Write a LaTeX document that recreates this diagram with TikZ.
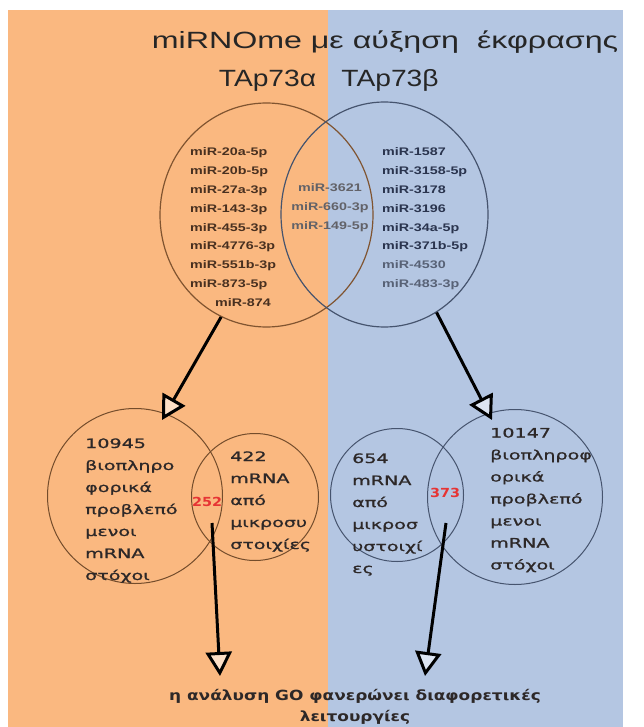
\documentclass[tikz,border=0pt]{standalone}
\usepackage{fontspec}
\usepackage{graphicx}
\setmainfont{Liberation Sans}
\newfontfamily\roundgr[FakeBold=0.8]{DejaVu Sans}
\newfontfamily\roundbf{DejaVu Sans}
\usetikzlibrary{arrows.meta,shapes.geometric}

\definecolor{bgO}{RGB}{250,184,128}
\definecolor{bgB}{RGB}{180,198,226}
\definecolor{ringL}{RGB}{128,84,48}
\definecolor{ringR}{RGB}{70,84,110}
\definecolor{txtL}{RGB}{72,48,32}
\definecolor{txtR}{RGB}{42,52,78}
\definecolor{txtRg}{RGB}{88,98,118}
\definecolor{txtM}{RGB}{98,98,104}
\definecolor{txtG}{RGB}{45,40,40}
\definecolor{numred}{RGB}{230,52,52}

% horizontal stretch helpers
\newcommand{\strA}[1]{\scalebox{1.3}[1]{#1}}
\newcommand{\strB}[1]{\scalebox{1.47}[1]{#1}}

\begin{document}
\begin{tikzpicture}[x=1pt,y=-1pt,
  ring/.style={draw, ellipse, inner sep=0pt, line width=1.2pt, fill=none},
  mir/.style={anchor=base west, inner sep=0pt, font=\bfseries\fontsize{11}{13}\selectfont},
  mirc/.style={anchor=base, inner sep=0pt, font=\bfseries\fontsize{11}{13}\selectfont, text=txtM},
  gline/.style={anchor=base west, inner sep=0pt, font=\roundgr\fontsize{13}{15}\selectfont, text=txtG},
  rednum/.style={anchor=base west, inner sep=0pt, font=\roundbf\bfseries\fontsize{12.5}{14}\selectfont, text=numred},
  bigtitle/.style={anchor=base, inner sep=0pt, font=\fontsize{23.5}{26}\selectfont, text=black!85},
  flow/.style={line width=3pt, black},
  headO/.style={-{Triangle[length=24pt,width=26pt,fill=white!55!bgO]}},
  headB/.style={-{Triangle[length=24pt,width=26pt,fill=white!55!bgB]}}
]
\useasboundingbox[fill=white] (0,0) rectangle (643,727);
\fill[bgO] (8,10) rectangle (328,727);
\fill[bgB] (328,10) rectangle (623,727);

% headings
\node[bigtitle] (title) at (385,48.5) {\scalebox{1.37}[1]{miRNOme με αύξηση\ \ έκφρασης}};
\node[bigtitle] (tapa) at (267.5,86.5) {\scalebox{1.2}[1]{TAp73α}};
\node[bigtitle] (tapb) at (390,86.5) {\scalebox{1.2}[1]{TAp73β}};

% upper Venn diagram
\node[ring, draw=ringL, minimum width=213pt, minimum height=224pt] (vL) at (266.5,215) {};
\node[ring, draw=ringR, minimum width=207pt, minimum height=225pt] (vR) at (384.5,214.5) {};

\foreach \t [count=\i from 0] in {miR-20a-5p,miR-20b-5p,miR-27a-3p,miR-143-3p,miR-455-3p,miR-4776-3p,miR-551b-3p,miR-873-5p}
  \node[mir, text=txtL] (ml\i) at (190,156+18.75*\i) {\strA{\t}};
\node[mir, text=txtL] (ml8) at (215,306) {\strA{miR-874}};

\foreach \t [count=\i from 0] in {miR-3621,miR-660-3p,miR-149-5p}
  \node[mirc] (mm\i) at (330,192+18.75*\i) {\strA{\t}};

\foreach \t/\c [count=\i from 0] in {miR-1587/txtR,miR-3158-5p/txtR,miR-3178/txtR,miR-3196/txtR,miR-34a-5p/txtR,miR-371b-5p/txtR,miR-4530/txtRg,miR-483-3p/txtRg}
  \node[mir, text=\c] (mr\i) at (382,156+18.75*\i) {\strA{\t}};

% lower left Venn diagram
\node[ring, draw=ringL!90!black, line width=1pt, circle, minimum size=175pt] (bL) at (135,496) {};
\node[ring, draw=ringL!90!black, line width=1pt, circle, minimum size=127pt] (bLs) at (255,497) {};

\foreach \t [count=\i from 0] in {10945,βιοπληρο,φορικά,προβλεπό,μενοι,mRNA,στόχοι}
  \node[gline] (gl\i) at (85,448+22*\i) {\strB{\t}};
\foreach \t [count=\i from 0] in {422,mRNA,από,μικροσυ,στοιχίες}
  \node[gline] (gs\i) at (230,461+22*\i) {\strB{\t}};
\node[rednum] (n252) at (192,506) {\scalebox{1.15}[1]{252}};

% lower right Venn diagram
\node[ring, draw=ringR, line width=1pt, circle, minimum size=133pt] (bRs) at (397,495) {};
\node[ring, draw=ringR, line width=1pt, circle, minimum size=175pt] (bR) at (515,497) {};

\foreach \t [count=\i from 0] in {654,mRNA,από,μικροσ,υστοιχί,ες}
  \node[gline] (hs\i) at (352,463+22*\i) {\strB{\t}};
\foreach \t [count=\i from 0] in {10147,βιοπληροφ,ορικά,προβλεπό,μενοι,mRNA,στόχοι}
  \node[gline] (hl\i) at (490,437.5+22*\i) {\strB{\t}};
\node[rednum] (n373) at (430,497) {\scalebox{1.15}[1]{373}};

% conclusion (base anchor sits on the last line)
\node[anchor=base, inner sep=0pt, align=center, text=txtG,
      font=\roundbf\bfseries\fontsize{14}{20.5}\selectfont] (concl) at (355,721)
  {\scalebox{1.21}[1]{η ανάλυση GO φανερώνει διαφορετικές}\\\scalebox{1.21}[1]{λειτουργίες}};

% arrows
\coordinate (tipL) at (162,420);
\coordinate (tipR) at (492,420);
\coordinate (srcL) at (212,523);
\coordinate (srcR) at (446,523);
\coordinate (endL) at (220,676);
\coordinate (endR) at (425,676);
\draw[flow, headO] (vL.-114) -- (tipL);
\draw[flow, headB] (vR.-62) -- (tipR);
\draw[flow, headO] (srcL) -- (endL);
\draw[flow, headB] (srcR) -- (endR);
\end{tikzpicture}
\end{document}
